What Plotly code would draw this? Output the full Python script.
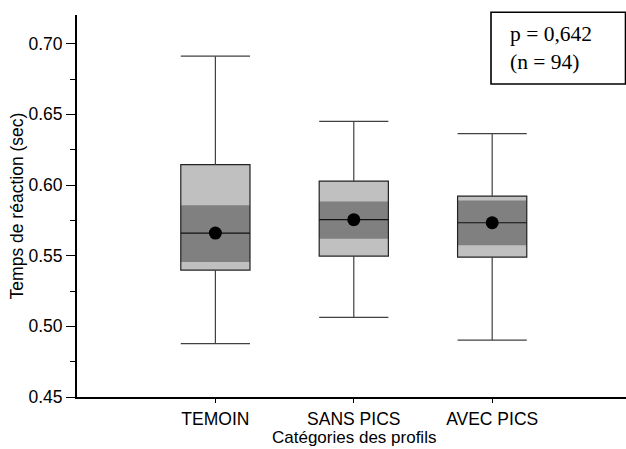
import plotly.graph_objects as go

# ---- data ----
categories = ["TEMOIN", "SANS PICS", "AVEC PICS"]
positions = [1, 2, 3]
whisker_low = [0.4877, 0.5063, 0.4903]
q1 = [0.5398, 0.5497, 0.5490]
ci_low = [0.5455, 0.5620, 0.5573]
median = [0.5660, 0.5755, 0.5733]
ci_high = [0.5856, 0.5884, 0.5891]
q3 = [0.6144, 0.6028, 0.5922]
whisker_high = [0.6912, 0.6450, 0.6363]
means = [0.5660, 0.5755, 0.5733]

BOX_W = 0.5
FONT = "Liberation Sans, Arial, sans-serif"

fig = go.Figure()

# outer (quartile) box fill
fig.add_trace(go.Bar(
    x=positions, base=q1, y=[b - a for a, b in zip(q1, q3)], width=BOX_W,
    marker=dict(color="#c0c0c0", line=dict(width=0)), hoverinfo="skip"))
# inner (dark) band
fig.add_trace(go.Bar(
    x=positions, base=ci_low, y=[b - a for a, b in zip(ci_low, ci_high)], width=BOX_W,
    marker=dict(color="#808080", line=dict(width=0)), hoverinfo="skip"))
# box outline
fig.add_trace(go.Bar(
    x=positions, base=q1, y=[b - a for a, b in zip(q1, q3)], width=BOX_W,
    marker=dict(color="rgba(0,0,0,0)", line=dict(width=1.2, color="#222222")),
    hoverinfo="skip"))

# whiskers and caps
wx, wy = [], []
for p, lo, a, b, hi in zip(positions, whisker_low, q1, q3, whisker_high):
    wx += [p, p, None, p, p, None]
    wy += [hi, b, None, a, lo, None]
    wx += [p - BOX_W / 2, p + BOX_W / 2, None, p - BOX_W / 2, p + BOX_W / 2, None]
    wy += [hi, hi, None, lo, lo, None]
fig.add_trace(go.Scatter(x=wx, y=wy, mode="lines",
                         line=dict(color="#404040", width=1.2), hoverinfo="skip"))

# median lines
mx, my = [], []
for p, m in zip(positions, median):
    mx += [p - BOX_W / 2, p + BOX_W / 2, None]
    my += [m, m, None]
fig.add_trace(go.Scatter(x=mx, y=my, mode="lines",
                         line=dict(color="#111111", width=1.2), hoverinfo="skip"))

# means
fig.add_trace(go.Scatter(x=positions, y=means, mode="markers",
                         marker=dict(color="black", size=13), hoverinfo="skip"))

fig.update_layout(
    width=626, height=449,
    margin=dict(l=77, r=0, t=15, b=52, autoexpand=False),
    paper_bgcolor="white", plot_bgcolor="white",
    showlegend=False, barmode="overlay",
    font=dict(family=FONT, color="black"),
)
fig.update_xaxes(
    range=[0, 3.967], tickvals=positions, ticktext=categories,
    showline=True, linecolor="black", linewidth=2, showgrid=False, zeroline=False,
    ticks="outside", ticklen=4, tickcolor="black", tickwidth=1,
    tickfont=dict(size=17.5, family=FONT), ticklabelstandoff=1,
)
fig.update_yaxes(
    range=[0.45, 0.7203], tickvals=[0.45, 0.50, 0.55, 0.60, 0.65, 0.70],
    tickformat=".2f",
    showline=True, linecolor="black", linewidth=2, showgrid=False, zeroline=False,
    ticks="outside", ticklen=9, tickcolor="black", tickwidth=1,
    minor=dict(tickvals=[0.475, 0.525, 0.575, 0.625, 0.675], ticks="outside",
               ticklen=5, tickcolor="black", tickwidth=1, showgrid=False),
    tickfont=dict(size=17.5, family=FONT),
    title=dict(text="Temps de réaction (sec)", font=dict(size=17.5, family=FONT), standoff=0),
)

# x-axis title (placed as annotation to sit tight under the tick labels)
fig.add_annotation(xref="x", yref="paper", x=2, y=-0.107,
                   xanchor="center", yanchor="middle", showarrow=False,
                   text="Catégories des profils", borderpad=0,
                   font=dict(size=17, family=FONT, color="black"))

# p-value box
fig.add_shape(type="rect", xref="paper", yref="paper",
              x0=0.7541, x1=0.9991, y0=0.8194, y1=1.0071,
              line=dict(color="black", width=1.6), fillcolor="rgba(0,0,0,0)")
fig.add_annotation(xref="paper", yref="paper", x=0.7850, y=0.913,
                   xanchor="left", yanchor="middle", align="left", showarrow=False,
                   text="p = 0,642<br>(n = 94)",
                   font=dict(family="Liberation Serif, Times New Roman, serif", size=21.5, color="black"))

fig.write_html("out.html")
